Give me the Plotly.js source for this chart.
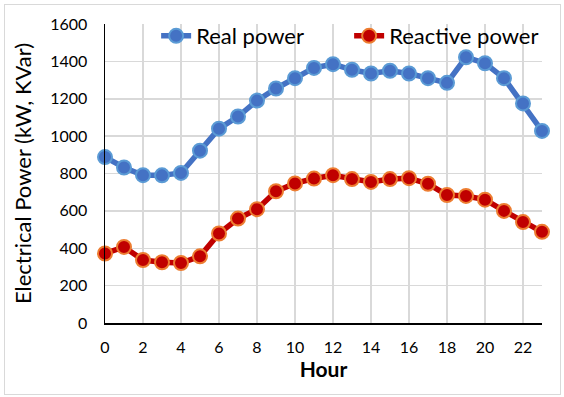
<!DOCTYPE html>
<html><head><meta charset="utf-8">
<script src="https://cdn.plot.ly/plotly-3.0.1.min.js"></script>
<style>
html,body{margin:0;padding:0;background:#fff;}
#wrap{position:relative;width:564px;height:397px;}
#chart{width:564px;height:397px;}
#frame{position:absolute;left:4px;top:4px;width:555px;height:389px;border:1px solid #d9d9d9;pointer-events:none;}
</style></head>
<body>
<div id="wrap"><div id="chart"></div><div id="frame"></div></div>
<script>
const hours = [0,1,2,3,4,5,6,7,8,9,10,11,12,13,14,15,16,17,18,19,20,21,22,23];
const realPower = [888,832,791,790,803,922,1040,1105,1190,1255,1310,1365,1385,1355,1335,1350,1335,1310,1285,1422,1390,1310,1175,1028];
const reactivePower = [372,407,337,325,321,357,479,559,609,705,747,773,791,770,755,770,775,745,685,680,660,600,540,488];
const xTicks = [0,2,4,6,8,10,12,14,16,18,20,22];
const yTicks = [0,200,400,600,800,1000,1200,1400,1600];

const font = "Lato, 'Open Sans', sans-serif";
const traces = [
  {x: hours, y: realPower, name: 'Real power', mode: 'lines+markers', cliponaxis: false,
   line: {color: '#4472C4', width: 5.5},
   marker: {size: 14, color: '#4472C4', line: {color: '#5B9BD5', width: 2}}},
  {x: hours, y: reactivePower, name: 'Reactive power', mode: 'lines+markers', cliponaxis: false,
   line: {color: '#C00000', width: 5.5},
   marker: {size: 14, color: '#C00000', line: {color: '#ED7D31', width: 2}}}
];
const layout = {
  width: 564, height: 397,
  margin: {l: 105, r: 22, t: 24, b: 74},
  paper_bgcolor: '#fff', plot_bgcolor: '#fff',
  font: {family: font, size: 16, color: '#000'},
  showlegend: true,
  legend: {orientation: 'h', x: 0.117, y: 1.03, xanchor: 'left', yanchor: 'top',
           bgcolor: 'rgba(255,255,255,0)', font: {size: 22, family: font, color: '#000'},
           entrywidth: 148, tracegroupgap: 0},
  xaxis: {range: [0, 23], tickvals: xTicks, ticktext: xTicks.map(String),
          showgrid: true, gridcolor: '#d9d9d9', gridwidth: 1.5,
          showline: true, linecolor: '#000', linewidth: 1.5, zeroline: false,
          ticks: 'outside', ticklen: 9, tickcolor: 'rgba(0,0,0,0)',
          title: {text: '<b>Hour</b>', font: {size: 21, family: font}, standoff: 2},
          tickfont: {size: 16}},
  yaxis: {range: [0, 1600], tickvals: yTicks, ticktext: yTicks.map(String),
          showgrid: true, gridcolor: '#d9d9d9', gridwidth: 1.5,
          showline: true, linecolor: '#000', linewidth: 1.5, zeroline: false,
          ticks: 'outside', ticklen: 13, tickcolor: 'rgba(0,0,0,0)',
          title: {text: 'Electrical Power (kW, KVar)', font: {size: 22, family: font}, standoff: 12},
          tickfont: {size: 16}}
};
Plotly.newPlot('chart', traces, layout, {displayModeBar: false, staticPlot: true});
</script>
</body></html>
